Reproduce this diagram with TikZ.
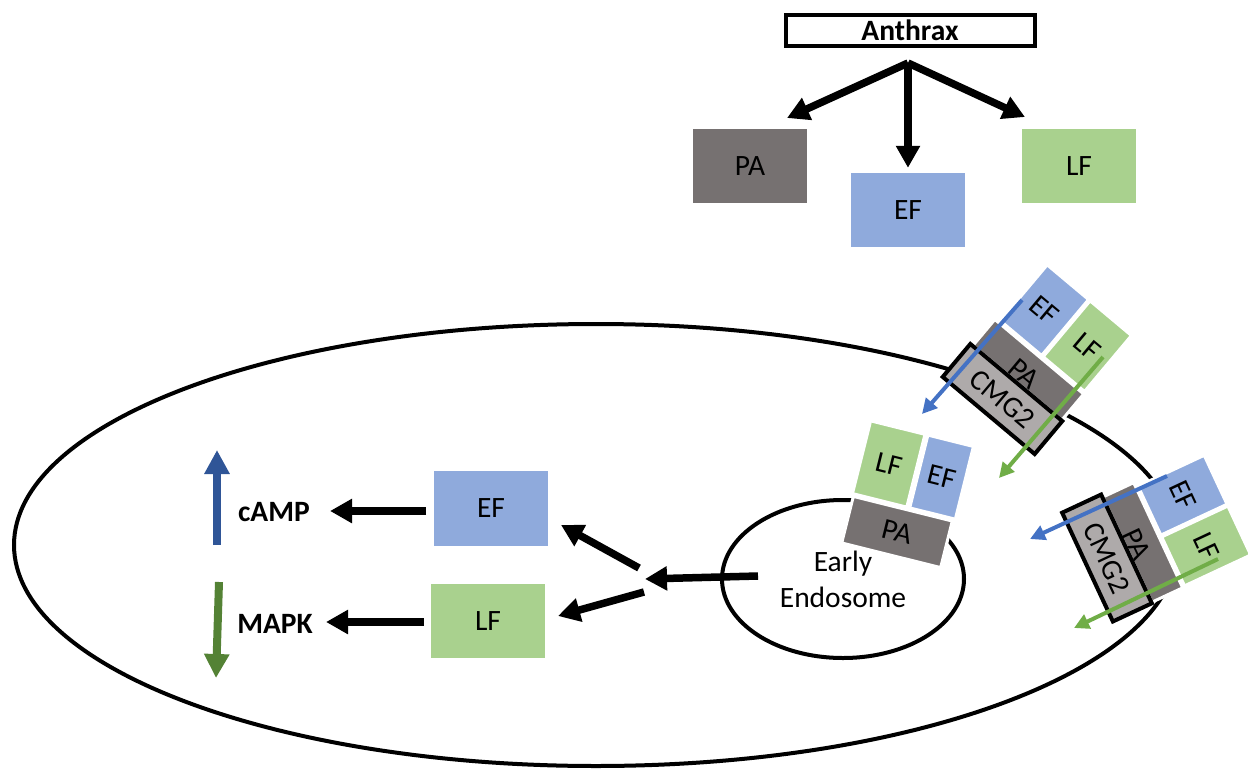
\documentclass[tikz,border=0pt]{standalone}
\usepackage{fontspec}
\setmainfont{Carlito}
\usetikzlibrary{arrows.meta,shapes.geometric}
\definecolor{paGray}{HTML}{767171}
\definecolor{efBlue}{HTML}{8FAADC}
\definecolor{lfGreen}{HTML}{A9D18E}
\definecolor{cmgGray}{HTML}{AEAAAA}
\definecolor{arrBlue}{HTML}{4472C4}
\definecolor{arrGreen}{HTML}{70AD47}
\definecolor{campBlue}{HTML}{2F5597}
\definecolor{mapkGreen}{HTML}{548235}
\begin{document}
\begin{tikzpicture}[x=1pt,y=-1pt,
  txt/.style={font=\fontsize{29.5}{36}\selectfont},
  btxt/.style={font=\bfseries\fontsize{29.5}{36}\selectfont},
  flatbox/.style={txt, inner sep=0pt, minimum width=114pt, minimum height=74pt},
  rbox/.style={txt, inner sep=0pt, draw=white, line width=3pt},
  cmgbox/.style={txt, inner sep=0pt, draw=black, line width=4pt, fill=cmgGray, minimum width=120pt, minimum height=43pt},
  bigarr/.style={line width=7.5pt, -{Triangle[length=22pt,width=23pt]}},
  smallarr/.style={line width=4pt, -{Triangle[length=15pt,width=15pt]}},
  updown/.style={line width=8pt, -{Triangle[length=24pt,width=24pt]}},
  membrane/.style={draw=black, line width=4pt, ellipse, inner sep=0pt}
]
\useasboundingbox (0,0) rectangle (1248,771);

% cell and endosome
\node[membrane, minimum width=1164pt, minimum height=442pt] (cell) at (596,545) {};
\node[membrane, txt, align=center, minimum width=242pt, minimum height=158pt] (endo) at (843,579) {Early\\Endosome};

% top: anthrax and its toxins
\node[draw=black, line width=4pt, inner sep=0pt, minimum width=249pt, minimum height=31pt, btxt] (anthrax) at (910,30.5) {Anthrax};
\coordinate (split) at (908,63);
\node[flatbox, fill=paGray] (pa1) at (750,166) {PA};
\node[flatbox, fill=efBlue] (ef1) at (908,210) {EF};
\node[flatbox, fill=lfGreen] (lf1) at (1079,166) {LF};
\coordinate (paTip) at (787,118);
\coordinate (lfTip) at (1025,117);
\draw[bigarr] (split) -- (paTip);
\draw[bigarr, shorten >=5pt] (split) -- (ef1);
\draw[bigarr] (split) -- (lfTip);

% endosome cluster
\begin{scope}[shift={(897,532)}, rotate=-14, transform shape]
  \node[rbox, fill=paGray, minimum width=102pt, minimum height=48pt] (endoPA) at (0,0) {PA};
  \node[rbox, fill=lfGreen, minimum width=56pt, minimum height=75pt] (endoLF) at (-24.5,-64) {LF};
  \node[rbox, fill=efBlue, minimum width=47pt, minimum height=75pt] (endoEF) at (30,-64) {EF};
\end{scope}

% membrane complex 1
\begin{scope}[shift={(1002.5,399)}, rotate=-40, transform shape]
  \node[rbox, fill=paGray, minimum width=116pt, minimum height=34pt] (c1pa) at (1,-39) {};
  \node[cmgbox] (c1cmg) at (0,0) {CMG2};
  \node[txt, inner sep=0pt] (c1patxt) at (0,-33) {PA};
  \node[rbox, fill=efBlue, minimum width=54pt, minimum height=73pt] (c1ef) at (-25,-95) {EF};
  \node[rbox, fill=lfGreen, minimum width=54pt, minimum height=73pt] (c1lf) at (31,-95) {LF};
\end{scope}

% membrane complex 2
\begin{scope}[shift={(1107,558)}, rotate=-65, transform shape]
  \node[rbox, fill=paGray, minimum width=116pt, minimum height=34pt] (c2pa) at (1,-39) {};
  \node[cmgbox] (c2cmg) at (0,0) {CMG2};
  \node[txt, inner sep=0pt] (c2patxt) at (0,-33) {PA};
  \node[rbox, fill=efBlue, minimum width=54pt, minimum height=73pt] (c2ef) at (-25,-95) {EF};
  \node[rbox, fill=lfGreen, minimum width=54pt, minimum height=73pt] (c2lf) at (31,-95) {LF};
\end{scope}

% entry arrows
\coordinate (c1bS) at (1022,300);
\coordinate (c1bE) at (922,414);
\coordinate (c1gS) at (1103,357);
\coordinate (c1gE) at (999,478);
\coordinate (c2bS) at (1167,476);
\coordinate (c2bE) at (1030,539);
\coordinate (c2gS) at (1218,559);
\coordinate (c2gE) at (1074,628);
\draw[smallarr, arrBlue] (c1bS) -- (c1bE);
\draw[smallarr, arrGreen] (c1gS) -- (c1gE);
\draw[smallarr, arrBlue] (c2bS) -- (c2bE);
\draw[smallarr, arrGreen] (c2gS) -- (c2gE);

% cytosol
\node[flatbox, fill=efBlue, minimum height=75pt] (ef2) at (491,508.5) {EF};
\node[flatbox, fill=lfGreen] (lf2) at (488,621) {LF};
\node[btxt, inner sep=0pt] (camp) at (274,512) {cAMP};
\node[btxt, inner sep=0pt] (mapk) at (275,624) {MAPK};

\coordinate (endoS) at (758,576);
\coordinate (hub) at (645,579);
\coordinate (toEFs) at (639,568);
\coordinate (toEFe) at (561,525);
\coordinate (toLFs) at (644,592);
\coordinate (toLFe) at (558,616);
\draw[bigarr] (endoS) -- (hub);
\draw[bigarr] (toEFs) -- (toEFe);
\draw[bigarr] (toLFs) -- (toLFe);

\coordinate (campS) at (426,511);
\coordinate (campE) at (330,511);
\coordinate (mapkS) at (424,622);
\coordinate (mapkE) at (326,622);
\draw[bigarr] (campS) -- (campE);
\draw[bigarr] (mapkS) -- (mapkE);

\coordinate (upS) at (217,545);
\coordinate (upE) at (217,450);
\coordinate (dnS) at (219,582);
\coordinate (dnE) at (216,678);
\draw[updown, campBlue] (upS) -- (upE);
\draw[updown, mapkGreen] (dnS) -- (dnE);
\end{tikzpicture}
\end{document}
